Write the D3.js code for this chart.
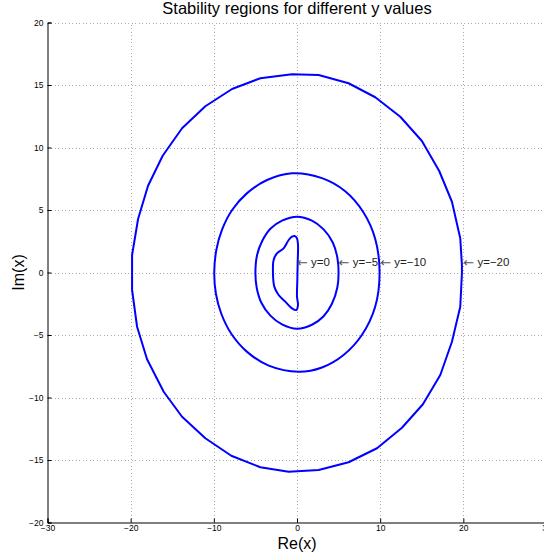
<!DOCTYPE html>
<html>
<head>
<meta charset="utf-8">
<script src="https://cdn.jsdelivr.net/npm/d3@7/dist/d3.min.js"></script>
<style>
  html, body { margin: 0; padding: 0; background: #fff; }
  svg { display: block; font-family: "Liberation Sans", Arial, Helvetica, sans-serif; }
</style>
</head>
<body>
<svg id="chart" width="544" height="559"></svg>
<script>
// Axis ticks
const xTicks = [-30, -20, -10, 0, 10, 20, 30];
const yTicks = [-20, -15, -10, -5, 0, 5, 10, 15, 20];

// Boundary points [Re, Im] for each y value
const boundaryY0 = [
  [-0.28, 2.92], [-0.6, 2.87], [-1.0, 2.6], [-1.61, 1.93], [-2.41, 1.53], [-2.81, 1.0],
  [-2.89, -0.07], [-2.73, -1.13], [-2.21, -1.8], [-1.41, -2.33], [-0.6, -2.87],
  [-0.08, -3.0], [0.12, -2.6], [0.0, -1.93], [0.04, -0.6], [0.08, 0.73], [0.12, 2.2], [0.0, 2.73]
];
const boundaryY5 = [
  [-5.0, 0.0], [-4.8, 1.4], [-4.2, 2.5], [-3.2, 3.5], [-1.8, 4.15], [0.0, 4.47],
  [1.8, 4.15], [3.2, 3.45], [4.3, 2.4], [4.85, 1.2], [5.0, 0.0], [4.85, -1.2],
  [4.2, -2.5], [3.2, -3.5], [1.8, -4.18], [0.0, -4.5], [-1.8, -4.15], [-3.2, -3.45],
  [-4.3, -2.4], [-4.85, -1.2]
];
const boundaryY10 = [
  [-9.95, 0.0], [-9.7, 1.8], [-9.0, 3.45], [-7.8, 5.0], [-6.0, 6.35], [-3.6, 7.4],
  [-0.6, 7.94], [3.0, 7.55], [5.8, 6.5], [8.0, 4.8], [9.4, 2.7], [9.93, 0.0],
  [9.4, -2.74], [7.8, -5.0], [5.6, -6.6], [3.0, -7.6], [0.2, -7.94], [-3.4, -7.45],
  [-6.0, -6.35], [-7.9, -4.9], [-9.1, -3.3], [-9.75, -1.7]
];
const boundaryY20 = [
  [19.83, 0.6], [19.63, 2.74], [18.63, 5.66], [17.1, 8.12], [15.02, 10.52], [12.42, 12.46],
  [9.41, 14.02], [6.2, 15.14], [2.6, 15.8], [-0.6, 15.86], [-4.41, 15.54], [-7.81, 14.68],
  [-11.02, 13.3], [-13.82, 11.54], [-16.15, 9.34], [-17.91, 6.94], [-19.11, 4.28],
  [-19.83, 1.4], [-19.83, -1.4], [-19.23, -4.34], [-18.03, -6.94], [-16.03, -9.54],
  [-13.82, -11.54], [-11.02, -13.26], [-7.9, -14.66], [-4.41, -15.58], [-1.0, -15.94],
  [2.6, -15.8], [6.2, -15.18], [9.62, -14.06], [12.62, -12.42], [15.14, -10.54],
  [17.23, -8.2], [18.63, -5.54], [19.63, -2.74], [19.83, -0.06]
];

// Annotation labels and the Re value each arrow points to
const labelTexts = ["y=0", "y=\u22125", "y=\u221210", "y=\u221220"];
const labelRe = [0, 5, 10, 20];
const labelIm = 0.8;

const svg = d3.select("#chart");
const margin = { left: 47.5, top: 22.5 };
const plotW = 499, plotH = 500;

const x = d3.scaleLinear().domain([-30, 30]).range([margin.left, margin.left + plotW]);
const y = d3.scaleLinear().domain([-20, 20]).range([margin.top + plotH, margin.top]);

const fmt = d => (d < 0 ? "\u2212" + Math.abs(d) : String(d));

// Dotted grid
const grid = svg.append("g").attr("stroke", "#aaa").attr("stroke-width", 1)
  .attr("stroke-dasharray", "1,2.5").attr("shape-rendering", "crispEdges");
grid.selectAll("line.vx").data(xTicks.filter(d => d > -30)).enter().append("line")
  .attr("x1", d => Math.round(x(d)) + 0.5).attr("x2", d => Math.round(x(d)) + 0.5)
  .attr("y1", y(-20)).attr("y2", y(20));
grid.selectAll("line.hy").data(yTicks.filter(d => d > -20)).enter().append("line")
  .attr("y1", d => Math.round(y(d)) + 0.5).attr("y2", d => Math.round(y(d)) + 0.5)
  .attr("x1", x(-30)).attr("x2", x(30));

// Axes with inward ticks
const xAxis = d3.axisBottom(x).tickValues(xTicks).tickSize(-4).tickPadding(5).tickFormat(fmt);
const yAxis = d3.axisLeft(y).tickValues(yTicks).tickSize(-4).tickPadding(4).tickFormat(fmt);

const gx = svg.append("g").attr("transform", `translate(0,${y(-20)})`).call(xAxis);
const gy = svg.append("g").attr("transform", `translate(${x(-30)},0)`).call(yAxis);
[gx, gy].forEach(g => {
  g.select(".domain").attr("stroke", "#000").attr("stroke-width", 1);
  g.selectAll(".tick line").attr("stroke", "#000");
  g.selectAll("text").attr("font-size", 8.5).attr("fill", "#000")
    .attr("font-family", "'Liberation Sans', Arial, sans-serif");
});
gx.selectAll("text").attr("dy", "0.45em");

// Boundary curves
const line = d3.line().x(d => x(d[0])).y(d => y(d[1]));
const plotG = svg.append("g").attr("fill", "none").attr("stroke", "#0000ff")
  .attr("stroke-width", 2).attr("stroke-linejoin", "round");
plotG.append("path").datum(boundaryY20).attr("d", line.curve(d3.curveLinearClosed));
plotG.append("path").datum(boundaryY10).attr("d", line.curve(d3.curveCatmullRomClosed));
plotG.append("path").datum(boundaryY5).attr("d", line.curve(d3.curveCatmullRomClosed));
plotG.append("path").datum(boundaryY0).attr("d", line.curve(d3.curveCatmullRomClosed));

// Annotations: arrow pointing at the boundary, then the label
const ann = svg.append("g").selectAll("text").data(labelTexts).enter().append("text")
  .attr("x", (d, i) => x(labelRe[i]))
  .attr("y", y(labelIm))
  .attr("dominant-baseline", "middle")
  .attr("font-size", 11.5).attr("fill", "#222");
ann.append("tspan").attr("font-family", "'DejaVu Sans', sans-serif").attr("font-size", 13)
  .attr("fill", "#555").text("\u2190");
ann.append("tspan").text(d => " " + d);

// Title and axis labels
svg.append("text").attr("x", x(0)).attr("y", 14).attr("text-anchor", "middle")
  .attr("font-size", 16.5).attr("fill", "#000").text("Stability regions for different y values");
svg.append("text").attr("x", x(0)).attr("y", 549).attr("text-anchor", "middle")
  .attr("font-size", 16).attr("fill", "#000").text("Re(x)");
svg.append("text").attr("transform", `translate(24,${y(0)}) rotate(-90)`)
  .attr("text-anchor", "middle").attr("font-size", 16).attr("fill", "#000").text("Im(x)");
</script>
</body>
</html>
